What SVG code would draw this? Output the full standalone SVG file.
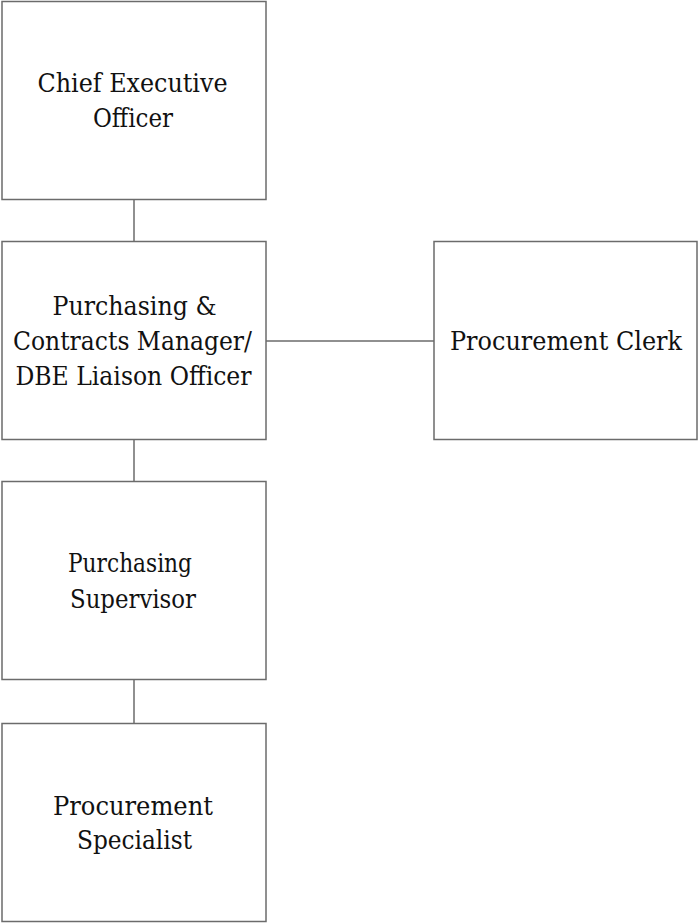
<svg xmlns="http://www.w3.org/2000/svg" width="698" height="923" viewBox="0 0 698 923">
  <style>
    .box { fill: #ffffff; stroke: #6b6b6b; stroke-width: 1.5; }
    .link { stroke: #6b6b6b; stroke-width: 1.5; fill: none; }
    .label { font-family: "DejaVu Serif Condensed", "DejaVu Serif", "Liberation Serif", serif; font-size: 26px; fill: #111111; text-anchor: middle; }
  </style>
  <rect width="698" height="923" fill="#ffffff"/>

  <!-- reporting lines -->
  <g id="connectors">
    <line class="link" x1="134" y1="199.5" x2="134" y2="241.5"/>
    <line class="link" x1="134" y1="439.5" x2="134" y2="481.5"/>
    <line class="link" x1="134" y1="679.5" x2="134" y2="723.5"/>
    <line class="link" x1="266" y1="341" x2="434" y2="341"/>
  </g>

  <g id="ceo">
    <rect class="box" x="2" y="1.5" width="264" height="198"/>
    <text class="label" x="132.5" y="92" textLength="190" lengthAdjust="spacingAndGlyphs">Chief Executive</text>
    <text class="label" x="133" y="127" textLength="80" lengthAdjust="spacingAndGlyphs">Officer</text>
  </g>

  <g id="purchasing-manager">
    <rect class="box" x="2" y="241.5" width="264" height="198"/>
    <text class="label" x="134.5" y="315" textLength="164" lengthAdjust="spacingAndGlyphs">Purchasing &amp;</text>
    <text class="label" x="132.5" y="350" textLength="239" lengthAdjust="spacingAndGlyphs">Contracts Manager/</text>
    <text class="label" x="133.5" y="385" textLength="236" lengthAdjust="spacingAndGlyphs">DBE Liaison Officer</text>
  </g>

  <g id="procurement-clerk">
    <rect class="box" x="434" y="241.5" width="263" height="198"/>
    <text class="label" x="566" y="350" textLength="232" lengthAdjust="spacingAndGlyphs">Procurement Clerk</text>
  </g>

  <g id="purchasing-supervisor">
    <rect class="box" x="2" y="481.5" width="264" height="198"/>
    <text class="label" x="130" y="572" textLength="124" lengthAdjust="spacingAndGlyphs">Purchasing</text>
    <text class="label" x="133" y="608" textLength="126" lengthAdjust="spacingAndGlyphs">Supervisor</text>
  </g>

  <g id="procurement-specialist">
    <rect class="box" x="2" y="723.5" width="264" height="198"/>
    <text class="label" x="133" y="815" textLength="160" lengthAdjust="spacingAndGlyphs">Procurement</text>
    <text class="label" x="134.5" y="849" textLength="115" lengthAdjust="spacingAndGlyphs">Specialist</text>
  </g>
</svg>
